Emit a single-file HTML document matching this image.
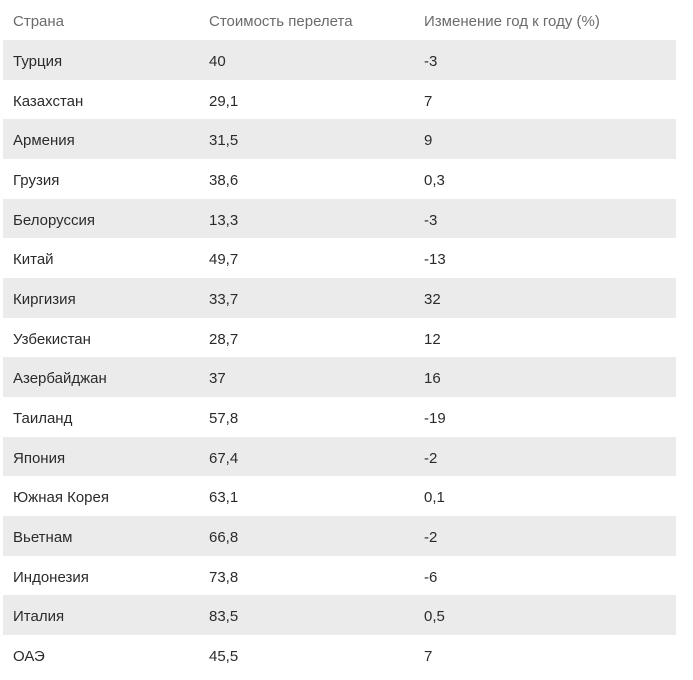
<!DOCTYPE html>
<html>
<head>
<meta charset="utf-8">
<style>
html,body{margin:0;padding:0;background:#fff;}
body{width:693px;height:680px;position:relative;overflow:hidden;font-family:"Liberation Sans","DejaVu Sans",sans-serif;font-size:15px;color:#2b2b2b;}
.row{position:absolute;left:3px;width:673px;height:39.67px;}
.g{background:#ebebeb;}
.c{position:absolute;top:2px;line-height:39.67px;white-space:nowrap;}
.c1{left:10px;}
.c2{left:206px;}
.c3{left:421px;}
.hd{position:absolute;left:3px;width:673px;top:3px;height:38px;color:#6b6b6b;}
.hd .c{line-height:38px;top:0;}
</style>
</head>
<body>
<div class="hd"><span class="c c1">Страна</span><span class="c c2">Стоимость перелета</span><span class="c c3">Изменение год к году (%)</span></div>
<div class="row g" style="top:40px"><span class="c c1">Турция</span><span class="c c2">40</span><span class="c c3">-3</span></div>
<div class="row" style="top:79.67px"><span class="c c1">Казахстан</span><span class="c c2">29,1</span><span class="c c3">7</span></div>
<div class="row g" style="top:119.34px"><span class="c c1">Армения</span><span class="c c2">31,5</span><span class="c c3">9</span></div>
<div class="row" style="top:159.01px"><span class="c c1">Грузия</span><span class="c c2">38,6</span><span class="c c3">0,3</span></div>
<div class="row g" style="top:198.68px"><span class="c c1">Белоруссия</span><span class="c c2">13,3</span><span class="c c3">-3</span></div>
<div class="row" style="top:238.35px"><span class="c c1">Китай</span><span class="c c2">49,7</span><span class="c c3">-13</span></div>
<div class="row g" style="top:278.02px"><span class="c c1">Киргизия</span><span class="c c2">33,7</span><span class="c c3">32</span></div>
<div class="row" style="top:317.69px"><span class="c c1">Узбекистан</span><span class="c c2">28,7</span><span class="c c3">12</span></div>
<div class="row g" style="top:357.36px"><span class="c c1">Азербайджан</span><span class="c c2">37</span><span class="c c3">16</span></div>
<div class="row" style="top:397.03px"><span class="c c1">Таиланд</span><span class="c c2">57,8</span><span class="c c3">-19</span></div>
<div class="row g" style="top:436.7px"><span class="c c1">Япония</span><span class="c c2">67,4</span><span class="c c3">-2</span></div>
<div class="row" style="top:476.37px"><span class="c c1">Южная Корея</span><span class="c c2">63,1</span><span class="c c3">0,1</span></div>
<div class="row g" style="top:516.04px"><span class="c c1">Вьетнам</span><span class="c c2">66,8</span><span class="c c3">-2</span></div>
<div class="row" style="top:555.71px"><span class="c c1">Индонезия</span><span class="c c2">73,8</span><span class="c c3">-6</span></div>
<div class="row g" style="top:595.38px"><span class="c c1">Италия</span><span class="c c2">83,5</span><span class="c c3">0,5</span></div>
<div class="row" style="top:635.05px"><span class="c c1">ОАЭ</span><span class="c c2">45,5</span><span class="c c3">7</span></div>
</body>
</html>
